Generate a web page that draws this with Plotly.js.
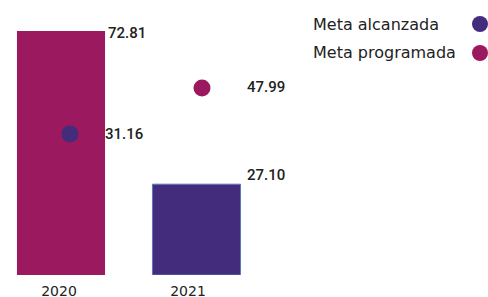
<!DOCTYPE html>
<html>
<head>
<meta charset="utf-8">
<script src="https://cdn.plot.ly/plotly-3.0.1.min.js"></script>
<style>html,body{margin:0;padding:0;background:#fff;}#chart{width:488px;height:297px;}</style>
</head>
<body>
<div id="chart"></div>
<script>
// ---- data ----
const years = ['2020', '2021'];
const barValues = [72.81, 27.10];
const dotValues = [31.16, 47.99];
const barLabels = ['72.81', '27.10'];
const dotLabels = ['31.16', '47.99'];
const legendNames = ['Meta alcanzada', 'Meta programada'];

// ---- style ----
const MAGENTA = '#9B195E';
const PURPLE = '#432C7C';
const barColors = [MAGENTA, PURPLE];
const barLineColors = [MAGENTA, '#5B78BE'];
const dotColors = [PURPLE, MAGENTA];
const legendColors = [PURPLE, MAGENTA];
const barLabelShift = [[45, -2], [48, 9]];
const dotLabelShift = [[33, 0], [43, 1]];
const labelFont = {family: 'Roboto, Liberation Sans, sans-serif', size: 15, weight: 500, color: '#222'};
const geoFont = {family: 'DejaVu Sans, sans-serif', size: 16, color: '#222'};

const W = 488, H = 297, T = 20, B = 22;
const plotH = H - T - B;

const traces = [
  {type: 'bar', x: years, y: barValues, width: 0.65,
   marker: {color: barColors, line: {color: barLineColors, width: [0, 1]}},
   hoverinfo: 'skip', showlegend: false},
  {type: 'scatter', mode: 'markers', x: years, y: dotValues, xaxis: 'x2', yaxis: 'y2',
   marker: {color: dotColors, size: 17}, hoverinfo: 'skip', showlegend: false},
  {type: 'scatter', mode: 'markers', x: years, y: barValues, xaxis: 'x3', yaxis: 'y',
   marker: {opacity: 0}, hoverinfo: 'skip', showlegend: false}
];

const annotations = [];
years.forEach((yr, i) => {
  annotations.push({x: i, y: barValues[i], xref: 'x', yref: 'y', text: barLabels[i],
    showarrow: false, xanchor: 'left', yanchor: 'middle',
    xshift: barLabelShift[i][0], yshift: barLabelShift[i][1], font: labelFont});
  annotations.push({x: i, y: dotValues[i], xref: 'x2', yref: 'y2', text: dotLabels[i],
    showarrow: false, xanchor: 'left', yanchor: 'middle',
    xshift: dotLabelShift[i][0], yshift: dotLabelShift[i][1], font: labelFont});
});

const legendRowsPx = [24, 53];
const shapes = [];
legendNames.forEach((name, i) => {
  const yp = (H - B - legendRowsPx[i]) / plotH;
  annotations.push({x: 311 / W, y: yp, xref: 'paper', yref: 'paper', text: name,
    showarrow: false, xanchor: 'left', yanchor: 'middle', font: geoFont});
  shapes.push({type: 'circle', xref: 'paper', yref: 'paper',
    xsizemode: 'pixel', ysizemode: 'pixel', xanchor: 480 / W, yanchor: yp,
    x0: -8, x1: 8, y0: -8, y1: 8, fillcolor: legendColors[i], line: {width: 0}});
});

const layout = {
  width: W, height: H,
  margin: {l: 0, r: 0, t: T, b: B, pad: 0},
  paper_bgcolor: '#fff', plot_bgcolor: '#fff',
  showlegend: false,
  xaxis: {type: 'category', range: [-61 / 135.5, (W - 61) / 135.5], showticklabels: false,
          showgrid: false, zeroline: false, showline: false, ticks: ''},
  xaxis2: {type: 'category', overlaying: 'x', anchor: 'y2', range: [-70 / 132, (W - 70) / 132],
           visible: false},
  xaxis3: {type: 'category', overlaying: 'x', anchor: 'y', range: [-59 / 129, (W - 59) / 129],
           showgrid: false, zeroline: false, showline: false, ticks: '', ticklabelstandoff: 6,
           tickfont: {family: 'DejaVu Sans, sans-serif', size: 14, color: '#222'}},
  yaxis: {range: [0, plotH / ((H - B - 31) / 72.81)], visible: false, showgrid: false, zeroline: false},
  yaxis2: {overlaying: 'y', range: [-20.43, 72.87], visible: false},
  annotations: annotations,
  shapes: shapes
};

Plotly.newPlot('chart', traces, layout, {staticPlot: true, displayModeBar: false});
</script>
</body>
</html>
